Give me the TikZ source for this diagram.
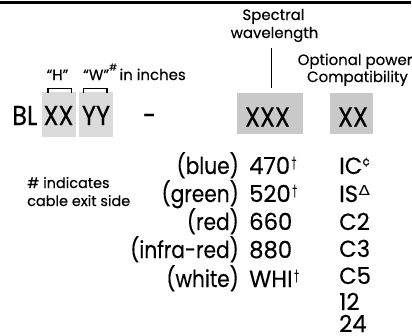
\documentclass[tikz,border=0pt]{standalone}
\usepackage{fontspec}
\usepackage{graphicx}
\setmainfont{Poppins}[FakeBold=0.3]
\newfontfamily\gothic{Poppins}[FakeStretch=0.86,FakeBold=0.3]
\newfontfamily\gothicw{Poppins}[FakeStretch=0.97,FakeBold=0.3]
\newfontfamily\bigfont{Poppins}[FakeStretch=0.88,FakeBold=0.3]
\newfontfamily\symf{DejaVu Sans}
\newcommand{\mydag}{\kern1.5bp\raisebox{5.5bp}{\resizebox*{5bp}{13bp}{\symf †}}}
\newcommand{\mydelta}{\kern0.5bp\raisebox{7bp}{\resizebox*{11.5bp}{10bp}{\symf Δ}}}
\newcommand{\mycent}{\raisebox{8.5bp}{\fontsize{12.5}{13}\selectfont ¢}}
\begin{document}
\begin{tikzpicture}[x=1bp,y=-1bp,
  big/.style={font=\bigfont\fontsize{27.5}{30}\selectfont, inner sep=0pt},
  mid/.style={font=\gothic\fontsize{23.5}{26}\selectfont, inner sep=0pt},
  val/.style={font=\gothicw\fontsize{23.5}{26}\selectfont, inner sep=0pt},
  small/.style={font=\fontsize{14.5}{17}\selectfont, inner sep=0pt},
  top/.style={font=\fontsize{15}{17}\selectfont, inner sep=0pt},
  lbox/.style={fill=black!14, draw=none},
  rbox/.style={fill=black!21, draw=none},
  brk/.style={line width=1.4pt},
]
\useasboundingbox (0,0) rectangle (412,336);
\draw[line width=2.2pt] (0,2.5) -- (410.5,2.5);
% boxes
\fill[lbox] (42,92) rectangle (76,137);
\fill[lbox] (79,92) rectangle (113,137);
\fill[rbox] (237,93) rectangle (303,134);
\fill[rbox] (330,93) rectangle (373,134);
% brackets
\draw[brk] (48,93) |- (71.5,88.5) -- (71.5,93);
\draw[brk] (83.5,93) |- (107,88.5) -- (107,93);
% main codes
\node[big, anchor=base west] (bl) at (12,125) {BL};
\node[big, anchor=base] (xx) at (58.5,125) {XX};
\node[big, anchor=base] (yy) at (96,125) {YY};
\node[big, anchor=base] (dash) at (149.5,125) {-};
\node[big, anchor=base] (xxx) at (267.5,126.5) {XXX};
\node[big, anchor=base] (pxx) at (353,126.5) {XX};
% top labels
\node[top, anchor=base] (h) at (57.5,80) {“H”};
\node[top, anchor=base west] (w) at (83,80) {“W”\raisebox{1.15ex}{\fontsize{9.5}{10}\selectfont\#}\,in inches};
\node[top, anchor=base] (spec) at (273.5,20) {Spectral};
\node[top, anchor=base] (wave) at (274.5,38) {wavelength};
\node[top, anchor=base] (opt) at (355,65) {Optional power};
\node[top, anchor=base] (comp) at (357.5,82) {Compatibility};
\coordinate (lt) at (271.5,48);
\coordinate (lb) at (271.5,88);
\draw[line width=1pt] (lt) -- (lb);
% note
\node[small, anchor=base west] (n1) at (27,188) {\# indicates};
\node[small, anchor=base west] (n2) at (27,206) {cable exit side};
% colour list
\node[mid, anchor=base east] (c1) at (239,174) {(blue)};
\node[mid, anchor=base east] (c2) at (239,202) {(green)};
\node[mid, anchor=base east] (c3) at (239,230) {(red)};
\node[mid, anchor=base east] (c4) at (239,258) {(infra-red)};
\node[mid, anchor=base east] (c5) at (239,287) {(white)};
\node[val, anchor=base west] (v1) at (249,174) {470\mydag};
\node[val, anchor=base west] (v2) at (249,202) {520\mydag};
\node[val, anchor=base west] (v3) at (249,230) {660};
\node[val, anchor=base west] (v4) at (249,258) {880};
\node[val, anchor=base west] (v5) at (249,287) {WHI\mydag};
% options
\node[val, anchor=base west] (o1) at (339,174) {IC\mycent};
\node[val, anchor=base west] (o2) at (339,202) {IS\mydelta};
\node[val, anchor=base west] (o3) at (339,230) {C2};
\node[val, anchor=base west] (o4) at (339,257) {C3};
\node[val, anchor=base west] (o5) at (339,284) {C5};
\node[val, anchor=base west] (o6) at (339,310) {12};
\node[val, anchor=base west, text depth=0pt] (o7) at (339,332) {24};
\end{tikzpicture}
\end{document}
